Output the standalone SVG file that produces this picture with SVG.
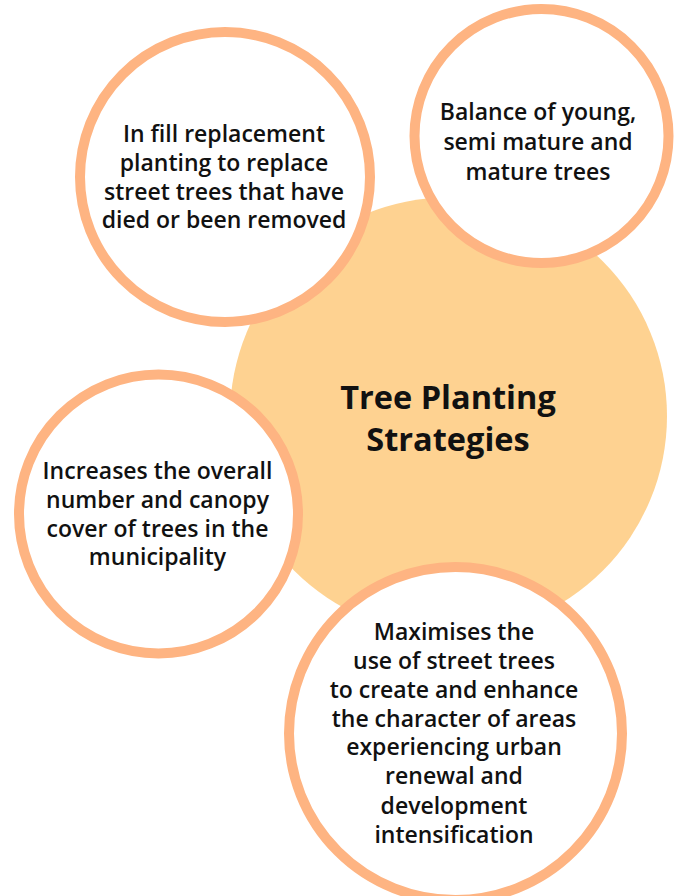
<svg xmlns="http://www.w3.org/2000/svg" width="681" height="896" viewBox="0 0 681 896">
<style>
.bg{fill:#ffffff}
.hub{fill:#FED291}
.leaf{fill:#ffffff;stroke:#FEB482;stroke-width:10}
.t{font-family:"Open Sans","Liberation Sans",sans-serif;font-weight:600;font-size:23px;fill:#111111;text-anchor:middle}
.h{font-family:"Open Sans","Liberation Sans",sans-serif;font-weight:700;font-size:32.5px;fill:#111111;text-anchor:middle}
</style>
<rect class="bg" x="0" y="0" width="681" height="896"/>
<g id="hub">
<circle class="hub" cx="448.5" cy="416" r="218.5"/>
<text class="h" x="448" y="409">Tree Planting</text>
<text class="h" x="448" y="451">Strategies</text>
</g>
<g id="connectors"></g>
<g id="node-infill">
<circle class="leaf" cx="225" cy="177" r="145"/>
<text class="t" x="224" y="142">In fill replacement</text>
<text class="t" x="224" y="171">planting to replace</text>
<text class="t" x="224" y="200">street trees that have</text>
<text class="t" x="224" y="228">died or been removed</text>
</g>
<g id="node-balance">
<circle class="leaf" cx="541.5" cy="136" r="127"/>
<text class="t" x="538" y="120">Balance of young,</text>
<text class="t" x="538" y="150">semi mature and</text>
<text class="t" x="538" y="180">mature trees</text>
</g>
<g id="node-increase">
<circle class="leaf" cx="158.5" cy="514" r="139.5"/>
<text class="t" x="157.5" y="479">Increases the overall</text>
<text class="t" x="157.5" y="508">number and canopy</text>
<text class="t" x="157.5" y="537">cover of trees in the</text>
<text class="t" x="157.5" y="565">municipality</text>
</g>
<g id="node-maximise">
<circle class="leaf" cx="455.5" cy="733.5" r="166.5"/>
<text class="t" x="454" y="640">Maximises the</text>
<text class="t" x="454" y="669">use of street trees</text>
<text class="t" x="454" y="698">to create and enhance</text>
<text class="t" x="454" y="727">the character of areas</text>
<text class="t" x="454" y="755">experiencing urban</text>
<text class="t" x="454" y="784">renewal and</text>
<text class="t" x="454" y="814">development</text>
<text class="t" x="454" y="843">intensification</text>
</g>
</svg>
